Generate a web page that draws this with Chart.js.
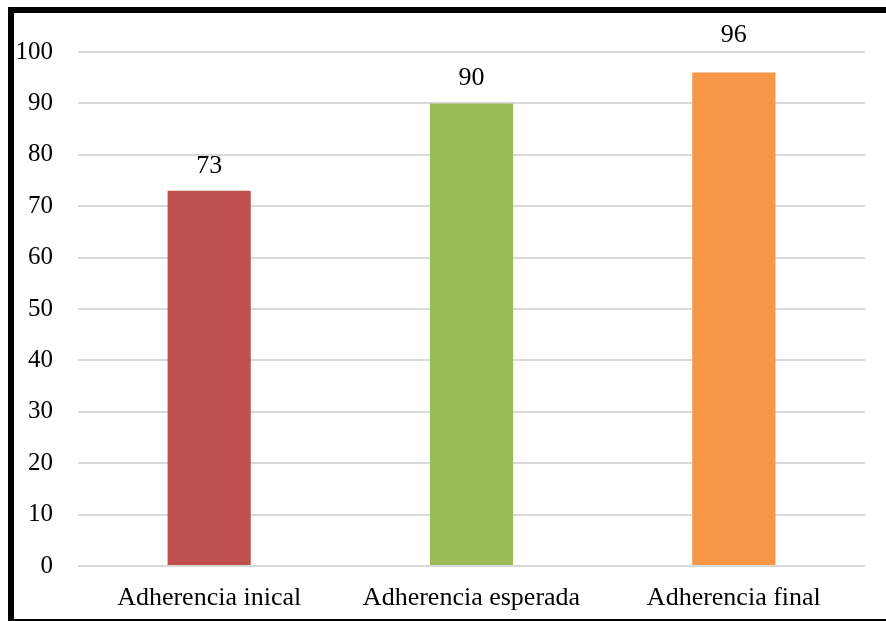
<!DOCTYPE html>
<html><head><meta charset="utf-8">
<script src="https://cdn.jsdelivr.net/npm/chart.js@4/dist/chart.umd.min.js"></script>
<style>
html,body{margin:0;padding:0;background:#fff;overflow:hidden;}
#wrap{position:absolute;left:0;top:0;width:886px;height:621px;}
#frame{position:absolute;left:8px;top:7px;width:900px;height:618px;box-sizing:border-box;border:6px solid #000;pointer-events:none;}
</style></head>
<body>
<div id="wrap"><canvas id="c" width="886" height="621"></canvas></div>
<div id="frame"></div>
<script>
const categories = ["Adherencia inical", "Adherencia esperada", "Adherencia final"];
const values = [73, 90, 96];
const barColors = ["#C0504D", "#9BBB59", "#F79646"];
const yTicks = [0, 10, 20, 30, 40, 50, 60, 70, 80, 90, 100];
const labelOffsets = [18, 18, 31];

const FONT = "'Liberation Serif', 'Times New Roman', serif";

const labelPlugin = {
  id: 'valLabels',
  afterDatasetsDraw(chart) {
    const ctx = chart.ctx;
    const meta = chart.getDatasetMeta(0);
    ctx.save();
    ctx.font = "26px " + FONT;
    ctx.fillStyle = "#000";
    ctx.textAlign = "center";
    ctx.textBaseline = "alphabetic";
    meta.data.forEach((bar, i) => {
      ctx.fillText(String(values[i]), bar.x, bar.y - labelOffsets[i]);
    });
    ctx.restore();
  }
};

new Chart(document.getElementById('c'), {
  type: 'bar',
  data: {
    labels: categories,
    datasets: [{ data: values, backgroundColor: barColors, borderWidth: 0,
      barPercentage: 0.317, categoryPercentage: 1.0 }]
  },
  options: {
    responsive: false,
    animation: false,
    layout: { padding: { top: 52, right: 21, left: 0, bottom: 0 } },
    plugins: { legend: { display: false }, tooltip: { enabled: false } },
    scales: {
      x: {
        grid: { display: false, drawTicks: false },
        border: { display: false },
        ticks: { color: "#000", font: { family: FONT, size: 26 }, padding: 17, maxRotation: 0, autoSkip: false },
        afterFit(s) { s.height = 55; }
      },
      y: {
        min: 0, max: 100,
        afterBuildTicks(s) { s.ticks = yTicks.map(v => ({ value: v })); },
        grid: { color: "#D9D9D9", lineWidth: 2, drawTicks: false },
        border: { display: false },
        ticks: { color: "#000", font: { family: FONT, size: 25 }, padding: 25 },
        afterFit(s) { s.width = 78; }
      }
    }
  },
  plugins: [labelPlugin]
});
</script>
</body></html>
